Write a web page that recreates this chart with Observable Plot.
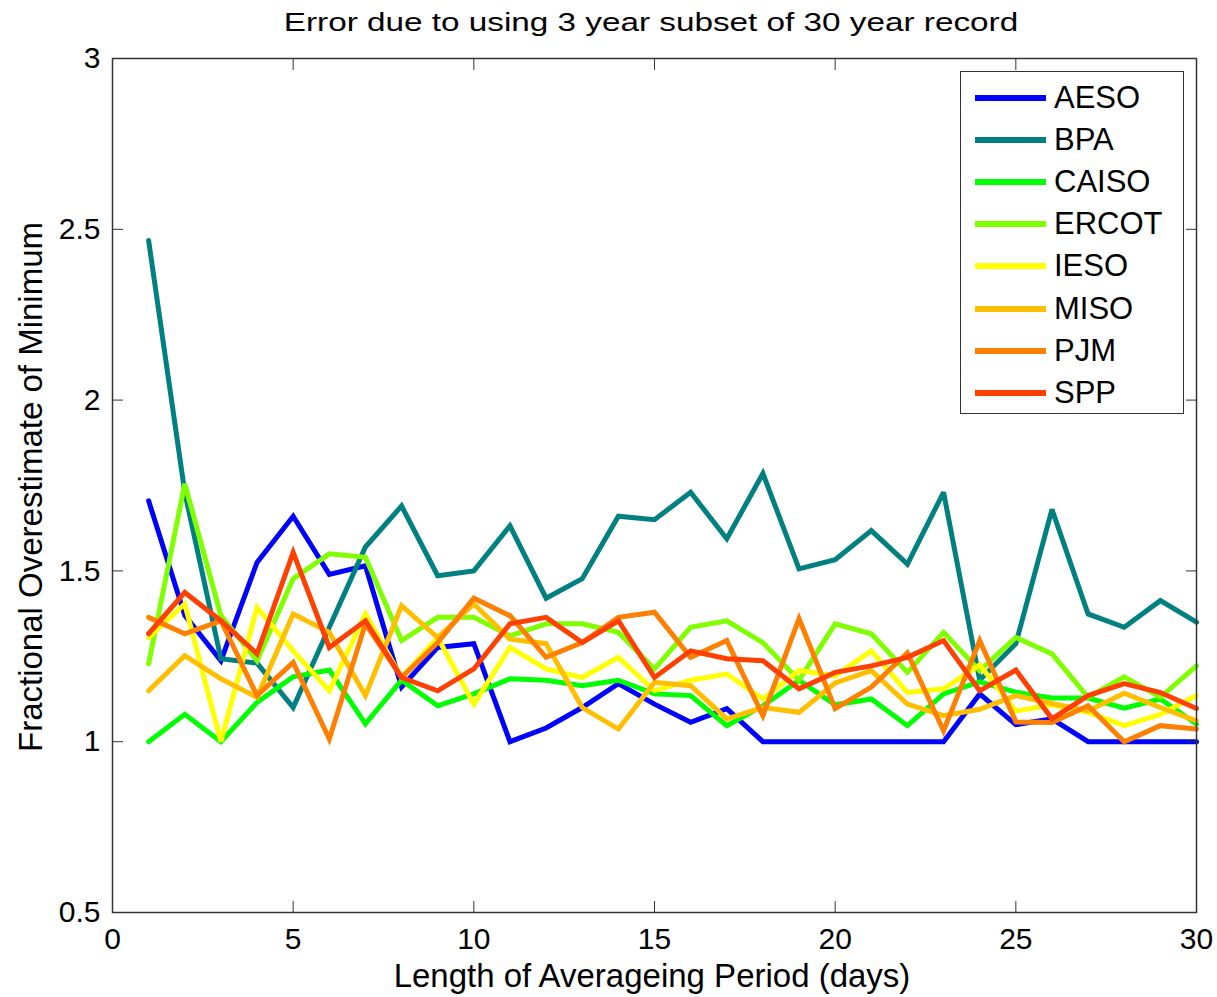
<!DOCTYPE html>
<html>
<head>
<meta charset="utf-8">
<script src="https://cdn.jsdelivr.net/npm/d3@7"></script>
<script src="https://cdn.jsdelivr.net/npm/@observablehq/plot@0.6"></script>
<style>
  body { margin: 0; background: #fff; }
  #wrap { position: relative; width: 1217px; height: 997px; font-family: "Liberation Sans", Arial, sans-serif; color: #000; }
  #wrap svg { position: absolute; left: 0; top: 0; }
  .title { position: absolute; left: 651px; top: 22px; font-size: 26px; white-space: nowrap; transform: translate(-50%, -50%) scaleX(1.28); }
  .xlabel { position: absolute; left: 652px; top: 976px; font-size: 33px; white-space: nowrap; transform: translate(-50%, -50%); }
  .ylabel { position: absolute; left: 31px; top: 487px; font-size: 33px; white-space: nowrap; transform: translate(-50%, -50%) rotate(-90deg); }
  .legend { position: absolute; left: 960px; top: 71px; width: 224px; height: 343px; border: 1px solid #333; background: #fff; box-sizing: border-box; }
  .legend .row { position: absolute; left: 0; height: 42px; width: 100%; }
  .legend .sw { position: absolute; left: 14px; top: 18px; width: 71px; height: 6px; }
  .legend .lb { position: absolute; left: 93px; top: 0; line-height: 42px; font-size: 31px; white-space: nowrap; }
</style>
</head>
<body>
<div id="wrap"></div>
<script>
const days = [1,2,3,4,5,6,7,8,9,10,11,12,13,14,15,16,17,18,19,20,21,22,23,24,25,26,27,28,29,30];
const seriesNames = ["AESO","BPA","CAISO","ERCOT","IESO","MISO","PJM","SPP"];
const seriesColors = ["#0000ff","#008080","#00ff00","#80ff00","#ffff00","#ffbf00","#ff8000","#ff4000"];

const AESO  = [1.705,1.37,1.237,1.525,1.66,1.49,1.515,1.16,1.276,1.287,1.0,1.04,1.10,1.17,1.11,1.057,1.097,1.0,1.0,1.0,1.0,1.0,1.0,1.14,1.05,1.067,1.0,1.0,1.0,1.0];
const BPA   = [2.467,1.73,1.243,1.23,1.10,1.335,1.57,1.69,1.486,1.50,1.632,1.42,1.477,1.66,1.65,1.73,1.594,1.785,1.506,1.533,1.618,1.52,1.73,1.18,1.287,1.68,1.374,1.335,1.413,1.35];
const CAISO = [1.0,1.08,1.0,1.115,1.19,1.21,1.052,1.18,1.105,1.14,1.184,1.18,1.164,1.18,1.14,1.135,1.047,1.105,1.18,1.108,1.125,1.047,1.14,1.175,1.145,1.128,1.128,1.098,1.125,1.052];
const ERCOT = [1.228,1.755,1.369,1.237,1.477,1.55,1.54,1.296,1.364,1.364,1.31,1.345,1.345,1.32,1.213,1.335,1.354,1.29,1.18,1.345,1.316,1.203,1.32,1.208,1.305,1.257,1.13,1.19,1.13,1.222];
const IESO  = [1.305,1.403,1.0,1.393,1.266,1.149,1.374,1.188,1.305,1.11,1.276,1.213,1.188,1.247,1.149,1.18,1.198,1.125,1.208,1.193,1.266,1.144,1.155,1.225,1.09,1.108,1.086,1.047,1.08,1.135];
const MISO  = [1.149,1.252,1.184,1.13,1.374,1.32,1.135,1.398,1.305,1.403,1.30,1.287,1.10,1.037,1.174,1.164,1.067,1.10,1.086,1.172,1.208,1.11,1.076,1.095,1.135,1.112,1.09,1.142,1.10,1.061];
const PJM   = [1.364,1.316,1.354,1.135,1.232,1.008,1.345,1.188,1.29,1.42,1.369,1.247,1.29,1.364,1.379,1.247,1.296,1.076,1.36,1.097,1.16,1.26,1.032,1.296,1.058,1.056,1.105,1.0,1.047,1.037];
const SPP   = [1.316,1.437,1.354,1.257,1.554,1.276,1.354,1.188,1.149,1.213,1.345,1.364,1.29,1.354,1.188,1.266,1.243,1.237,1.155,1.203,1.222,1.247,1.296,1.149,1.21,1.067,1.135,1.17,1.144,1.097];

const xTicks = [0,5,10,15,20,25,30];
const yTicks = [0.5,1,1.5,2,2.5,3];
const yTickLabels = ["0.5","1","1.5","2","2.5","3"];

const titleText = "Error due to using 3 year subset of 30 year record";
const xLabelText = "Length of Averageing Period (days)";
const yLabelText = "Fractional Overestimate of Minimum";

const seriesValues = [AESO, BPA, CAISO, ERCOT, IESO, MISO, PJM, SPP];
const rows = seriesNames.flatMap((name, i) => days.map((d, j) => ({series: name, day: d, value: seriesValues[i][j]})));

const axisColor = "#333";
const chart = Plot.plot({
  width: 1217,
  height: 997,
  marginTop: 58,
  marginLeft: 112,
  marginRight: 21,
  marginBottom: 85,
  style: {fontFamily: "'Liberation Sans', Arial, sans-serif", fontSize: "30px", color: "#000", background: "transparent"},
  x: {domain: [0, 30]},
  y: {domain: [0.5, 3]},
  color: {domain: seriesNames, range: seriesColors},
  marks: [
    Plot.line(rows, {x: "day", y: "value", z: "series", stroke: "series", strokeWidth: 5, strokeLinejoin: "miter", strokeMiterlimit: 3}),
    Plot.frame({stroke: axisColor, strokeWidth: 1.5}),
    Plot.axisX(xTicks, {anchor: "bottom", tickSize: -11, tickPadding: 26, stroke: axisColor, fill: "#000", label: null, tickFormat: d => String(d)}),
    Plot.axisX(xTicks, {anchor: "top", tickSize: -11, stroke: axisColor, label: null, tickFormat: () => ""}),
    Plot.axisY(yTicks, {anchor: "left", tickSize: -11, tickPadding: 23, stroke: axisColor, fill: "#000", label: null, tickFormat: (d, i) => yTickLabels[yTicks.indexOf(d)]}),
    Plot.axisY(yTicks, {anchor: "right", tickSize: -11, stroke: axisColor, label: null, tickFormat: () => ""})
  ]
});

const wrap = document.getElementById("wrap");
wrap.appendChild(chart);

function addDiv(cls, text) {
  const el = document.createElement("div");
  el.className = cls;
  el.textContent = text;
  wrap.appendChild(el);
  return el;
}
addDiv("title", titleText);
addDiv("xlabel", xLabelText);
addDiv("ylabel", yLabelText);

const legend = document.createElement("div");
legend.className = "legend";
seriesNames.forEach((name, i) => {
  const row = document.createElement("div");
  row.className = "row";
  row.style.top = (5 + i * 42.1) + "px";
  const sw = document.createElement("div");
  sw.className = "sw";
  sw.style.background = seriesColors[i];
  const lb = document.createElement("div");
  lb.className = "lb";
  lb.textContent = name;
  row.appendChild(sw);
  row.appendChild(lb);
  legend.appendChild(row);
});
wrap.appendChild(legend);
</script>
</body>
</html>
